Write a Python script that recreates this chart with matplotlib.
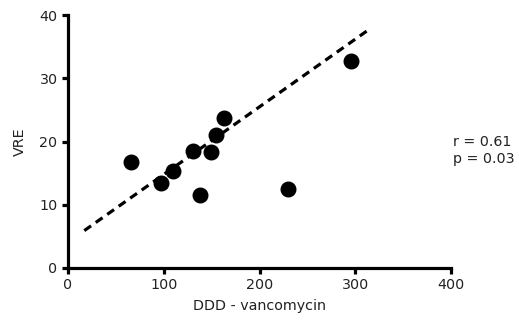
import matplotlib
matplotlib.use("Agg")
import matplotlib.pyplot as plt

# values
ddd = [65.5, 97.4, 110.0, 130.2, 137.9, 149.0, 154.6, 163.0, 229.8, 295.6]
vre = [16.7, 13.4, 15.35, 18.45, 11.5, 18.3, 21.1, 23.8, 12.45, 32.8]
fit_x = [17, 315]
fit_y = [5.9, 37.8]
x_ticks = [0, 100, 200, 300, 400]
y_ticks = [0, 10, 20, 30, 40]

plt.rcParams["font.family"] = "DejaVu Sans"
plt.rcParams["font.size"] = 10.3

fig = plt.figure(figsize=(5.19, 3.22), dpi=100)
ax = fig.add_axes([0.131, 0.168, 0.738, 0.785])

ax.plot(fit_x, fit_y, color="black", linewidth=2.3, linestyle=(0, (2.6, 1.8)))
ax.scatter(ddd, vre, s=110, color="black", zorder=3)

ax.set_xlim(0, 400)
ax.set_ylim(0, 40)
ax.set_xticks(x_ticks)
ax.set_yticks(y_ticks)
ax.spines["top"].set_visible(False)
ax.spines["right"].set_visible(False)
for s in ("left", "bottom"):
    ax.spines[s].set_linewidth(2.3)
ax.tick_params(width=2.3, length=4, color="black", labelcolor="#222")

ax.set_xlabel("DDD - vancomycin", labelpad=5, color="#222")
ax.set_ylabel("VRE", labelpad=9, color="#222")

ax.text(1.005, 0.465, "r = 0.61\np = 0.03", transform=ax.transAxes,
        va="center", ha="left", color="#222", linespacing=1.25)

fig.savefig("out.png", dpi=100)
